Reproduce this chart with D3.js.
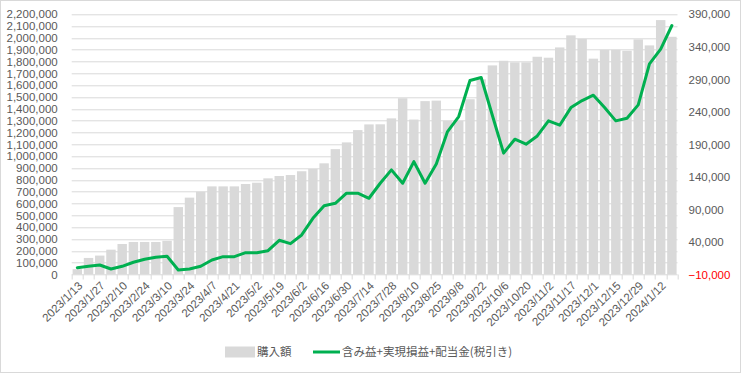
<!DOCTYPE html>
<html>
<head>
<meta charset="utf-8">
<script src="https://cdn.jsdelivr.net/npm/d3@7"></script>
<style>
  body { margin: 0; background: #fff; }
  text { font-family: "Liberation Sans", Arial, sans-serif; font-size: 11.5px; fill: #595959; }
  .legend-text { font-family: "Noto Sans CJK JP", sans-serif; font-size: 11.5px; }
</style>
</head>
<body>
<div id="chart"></div>
<script>
const WIDTH = 741;
const HEIGHT = 373;
const MARGINS = { TOP: 14.3, LEFT: 71.7, BOTTOM: 98.5, RIGHT: 63.5 };
const BAR_COLOR = "#d9d9d9";
const LINE_COLOR = "#00b050";

// categories (weekly dates)
const dates = [
    "2023/1/13", "2023/1/20", "2023/1/27", "2023/2/3", "2023/2/10", "2023/2/17",
    "2023/2/24", "2023/3/3", "2023/3/10", "2023/3/17", "2023/3/24", "2023/3/31",
    "2023/4/7", "2023/4/14", "2023/4/21", "2023/4/28", "2023/5/2", "2023/5/12",
    "2023/5/19", "2023/5/26", "2023/6/2", "2023/6/9", "2023/6/16", "2023/6/23",
    "2023/6/30", "2023/7/7", "2023/7/14", "2023/7/21", "2023/7/28", "2023/8/4",
    "2023/8/10", "2023/8/18", "2023/8/25", "2023/9/1", "2023/9/8", "2023/9/15",
    "2023/9/22", "2023/9/29", "2023/10/6", "2023/10/13", "2023/10/20", "2023/10/27",
    "2023/11/2", "2023/11/10", "2023/11/17", "2023/11/24", "2023/12/1", "2023/12/8",
    "2023/12/15", "2023/12/22", "2023/12/29", "2024/1/5", "2024/1/12", "2024/1/19"
];

// 購入額 (left axis)
const purchase = [
    45000, 140000, 160000, 210000, 258000, 275000,
    275000, 275000, 285000, 570000, 650000, 700000,
    745000, 745000, 745000, 765000, 776000, 813000,
    833000, 841000, 873000, 893000, 940000, 1060000,
    1117000, 1221000, 1269000, 1270000, 1320000, 1490000,
    1310000, 1466000, 1470000, 1300000, 1300000, 1482000,
    1650000, 1768000, 1807000, 1794000, 1794000, 1841000,
    1833000, 1920000, 2022000, 1993000, 1825000, 1900000,
    1900000, 1892000, 1988000, 1937000, 2151000, 2010000
];

// 含み益+実現損益+配当金(税引き) (right axis)
const profit = [
    500, 2600, 4600, -1500, 2600, 8800,
    13400, 16500, 18000, -3100, -1500, 2600,
    12300, 17400, 17400, 23500, 23500, 26600,
    42600, 37400, 50800, 76400, 95800, 99500,
    115000, 115000, 107200, 130300, 150800, 130300,
    163500, 130300, 160000, 209700, 232800, 288200,
    292800, 234500, 176500, 198000, 190300, 203000,
    226200, 219500, 246600, 257400, 265700, 246600,
    226200, 230300, 250800, 313900, 336500, 372800
];

const leftTicks = d3.range(0, 2200001, 100000);
const rightTicks = d3.range(-10000, 390001, 50000);

const innerW = WIDTH - MARGINS.LEFT - MARGINS.RIGHT;
const innerH = HEIGHT - MARGINS.TOP - MARGINS.BOTTOM;

let svg = d3.select("#chart")
    .append("svg")
    .attr("width", WIDTH)
    .attr("height", HEIGHT);

// chart border
svg.append("rect")
    .attr("x", 0.5).attr("y", 0.5)
    .attr("width", WIDTH - 1).attr("height", HEIGHT - 1)
    .attr("fill", "#fff")
    .attr("stroke", "#d9d9d9");

let g = svg.append("g")
    .attr("transform", "translate(" + MARGINS.LEFT + "," + MARGINS.TOP + ")");

let x = d3.scaleBand().domain(dates).range([0, innerW]).paddingInner(0.16).paddingOuter(0.08);
let xc = d3.scaleBand().domain(dates).range([0, innerW]);
let yL = d3.scaleLinear().domain([0, 2200000]).range([innerH, 0]);
let yR = d3.scaleLinear().domain([-10000, 390000]).range([innerH, 0]);

// gridlines
g.append("g")
    .selectAll("line")
    .data(leftTicks)
    .enter()
    .append("line")
    .attr("x1", 0).attr("x2", innerW)
    .attr("y1", d => Math.round(yL(d)) + 0.5)
    .attr("y2", d => Math.round(yL(d)) + 0.5)
    .attr("stroke", "#d9d9d9");

// bars
g.append("g")
    .selectAll("rect")
    .data(purchase)
    .enter()
    .append("rect")
    .attr("x", (d, i) => x(dates[i]))
    .attr("width", x.bandwidth())
    .attr("y", d => yL(d))
    .attr("height", d => innerH - yL(d))
    .attr("fill", BAR_COLOR);

// category tick marks
g.append("g")
    .selectAll("line")
    .data(d3.range(dates.length + 1))
    .enter()
    .append("line")
    .attr("x1", i => Math.round(i * xc.step()) + 0.5)
    .attr("x2", i => Math.round(i * xc.step()) + 0.5)
    .attr("y1", innerH)
    .attr("y2", innerH + 5)
    .attr("stroke", "#d9d9d9");

// left axis labels
let leftAxis = d3.axisLeft(yL).tickValues(leftTicks).tickSize(0).tickPadding(14).tickFormat(d3.format(","));
g.append("g").call(leftAxis).call(a => a.select(".domain").remove())
    .selectAll("text").attr("fill", null);

// right axis labels
let rightAxis = d3.axisRight(yR).tickValues(rightTicks).tickSize(0).tickPadding(11).tickFormat(d3.format(","));
g.append("g").attr("transform", "translate(" + innerW + ",0)")
    .call(rightAxis).call(a => a.select(".domain").remove())
    .selectAll("text").attr("fill", null)
    .style("fill", d => d < 0 ? "#ff0000" : null);
svg.selectAll("g[font-size]").attr("font-size", null).attr("font-family", null);

// x labels (every second category)
g.append("g")
    .selectAll("text")
    .data(dates.filter((d, i) => i % 2 === 0))
    .enter()
    .append("text")
    .attr("transform", d => "translate(" + (xc(d) + xc.bandwidth() / 2 + 3) + "," + (innerH + 9) + ") rotate(-45)")
    .style("text-anchor", "end")
    .attr("dy", "0.35em")
    .text(d => d);

// line
let line = d3.line()
    .x((d, i) => xc(dates[i]) + xc.bandwidth() / 2)
    .y(d => yR(d));
g.append("path")
    .datum(profit)
    .attr("d", line)
    .attr("fill", "none")
    .attr("stroke", LINE_COLOR)
    .attr("stroke-width", 3)
    .attr("stroke-linejoin", "round")
    .attr("stroke-linecap", "round");

// legend
let legend = svg.append("g").attr("transform", "translate(0,352)");
legend.append("rect")
    .attr("x", 225).attr("y", -5.5)
    .attr("width", 30).attr("height", 11)
    .attr("fill", BAR_COLOR);
legend.append("text")
    .attr("class", "legend-text")
    .attr("x", 257).attr("dy", "0.35em")
    .text("購入額");
legend.append("line")
    .attr("x1", 313).attr("x2", 340)
    .attr("y1", 0).attr("y2", 0)
    .attr("stroke", LINE_COLOR)
    .attr("stroke-width", 3);
legend.append("text")
    .attr("class", "legend-text")
    .attr("x", 342).attr("dy", "0.35em")
    .text("含み益+実現損益+配当金(税引き)");
</script>
</body>
</html>
